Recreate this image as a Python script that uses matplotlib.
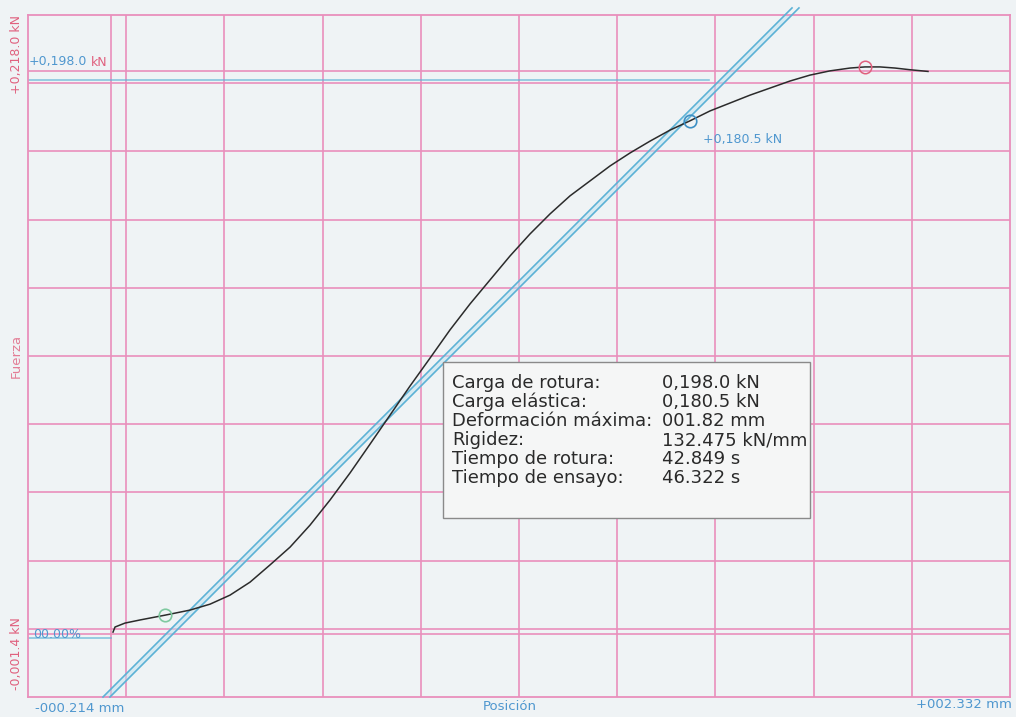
import matplotlib
matplotlib.use("Agg")
import matplotlib.pyplot as plt
import numpy as np

# Load-displacement record (mm, kN)
posicion_mm = [0.0064, 0.0116, 0.0375, 0.0764, 0.1412, 0.2060, 0.2579, 0.3097,
               0.3616, 0.4134, 0.4653, 0.5171, 0.5690, 0.6209, 0.6727, 0.7246,
               0.7764, 0.8283, 0.8801, 0.9320, 0.9838, 1.0357, 1.0875, 1.1394,
               1.1912, 1.2431, 1.2950, 1.3468, 1.3987, 1.4505, 1.5024, 1.5542,
               1.6061, 1.6579, 1.7098, 1.7616, 1.8135, 1.8653, 1.9172, 1.9561,
               1.9950, 2.0339, 2.0728, 2.1194]
fuerza_kN = [-0.0007, 0.0011, 0.0025, 0.0036, 0.0053, 0.0071, 0.0092, 0.0124,
             0.0170, 0.0231, 0.0294, 0.0372, 0.0461, 0.0557, 0.0659, 0.0762,
             0.0865, 0.0964, 0.1064, 0.1156, 0.1241, 0.1326, 0.1404, 0.1475,
             0.1539, 0.1592, 0.1645, 0.1691, 0.1733, 0.1772, 0.1805, 0.1840,
             0.1868, 0.1896, 0.1921, 0.1946, 0.1967, 0.1982, 0.1992, 0.1996,
             0.1996, 0.1992, 0.1986, 0.1980]

# Axis range
x_min, x_max = -0.214, 2.332
y_min, y_max = -0.0237, 0.218
y_ref_low = -0.0014

# Result values
carga_rotura = 0.198
carga_elastica = 0.1805
x_elastica = 1.5024
x_pico, y_pico = 1.9561, 0.1996
x_inicio, y_inicio = 0.1412, 0.0053

# Stiffness lines (slope, zero-load intercepts)
pendiente = 0.1367
intercepto_a = 0.1538
intercepto_b = 0.1718

# Result table
etiquetas = ["Carga de rotura:", "Carga elástica:", "Deformación máxima:",
             "Rigidez:", "Tiempo de rotura:", "Tiempo de ensayo:"]
valores = ["0,198.0 kN", "0,180.5 kN", "001.82 mm",
           "132.475 kN/mm", "42.849 s", "46.322 s"]

W, H = 1016, 717
PAPER = "#eff3f5"
PINK = "#e98fbc"
BLUE = "#5cb2d6"
LBLUE = "#4f97cf"
RED = "#e0607e"

plt.rcParams["font.family"] = ["DejaVu Sans"]

fig = plt.figure(figsize=(W / 100, H / 100), dpi=100, facecolor=PAPER)
ax = fig.add_axes([28 / W, 20 / H, 982 / W, 682 / H], facecolor=PAPER)
ax.set_xlim(x_min, x_max)
ax.set_ylim(y_min, y_max)
ax.set_xticks([])
ax.set_yticks([])
for s in ax.spines.values():
    s.set_color(PINK)
    s.set_linewidth(1.3)

# Paper grid, 10 x 10 divisions
for k in range(1, 10):
    ax.axvline(x_min + k * (x_max - x_min) / 10, color=PINK, lw=1.2, zorder=1)
    ax.axhline(y_min + k * (y_max - y_min) / 10, color=PINK, lw=1.2, zorder=1)

# Reference lines
ax.axvline(0.0, color=PINK, lw=1.2, zorder=1)
ax.axhline(y_ref_low, color=PINK, lw=1.2, zorder=1)
ax.axhline(carga_rotura, color=PINK, lw=1.2, zorder=1)
ax.plot([x_min, 0.0], [y_ref_low - 0.0014] * 2, color=BLUE, lw=1.2, alpha=0.7, zorder=2)
ax.plot([x_min, x_elastica + 0.05], [carga_rotura - 0.003] * 2, color=BLUE, lw=1.2,
        alpha=0.7, zorder=2)

# Stiffness lines
y_top_line = 0.2205
for x0 in (intercepto_a, intercepto_b):
    xs = np.array([x0 + y_min / pendiente, x0 + y_top_line / pendiente])
    ax.plot(xs, pendiente * (xs - x0), color=BLUE, lw=1.2, zorder=3, clip_on=False)
xa = np.array([intercepto_a + y_min / pendiente, intercepto_a + y_top_line / pendiente])
ax.fill_betweenx(pendiente * (xa - intercepto_a), xa, xa + (intercepto_b - intercepto_a),
                 color="#bfe3f0", alpha=0.5, lw=0, zorder=2)

# Load curve
ax.plot(posicion_mm, fuerza_kN, color="#2b2b2b", lw=1.1, zorder=4)

# Markers
ax.plot([x_pico], [y_pico], "o", ms=9, mfc="none", mec=RED, mew=1.1, zorder=5)
ax.plot([x_elastica], [carga_elastica], "o", ms=9, mfc="none", mec="#3d8fc4", mew=1.2, zorder=5)
ax.plot([x_inicio], [y_inicio], "o", ms=9, mfc="none", mec="#7fc9a0", mew=1.2, zorder=5)


def fx(px):
    return px / W


def fy(py):
    return 1 - py / H


# Axis labels
fig.text(fx(17), fy(15), "+0,218.0 kN", rotation=90, color=RED, fontsize=9,
         ha="center", va="top")
fig.text(fx(17), fy(690), "-0,001.4 kN", rotation=90, color=RED, fontsize=9,
         ha="center", va="bottom")
fig.text(fx(16), fy(356), "Fuerza", rotation=90, color=RED, fontsize=9.5,
         ha="center", va="center", alpha=0.8)
fig.text(fx(35), fy(708), "-000.214 mm", color=LBLUE, fontsize=9.5, ha="left", va="center")
fig.text(fx(510), fy(707), "Posición", color=LBLUE, fontsize=9.5, ha="center", va="center")
fig.text(fx(1012), fy(705), "+002.332 mm", color=LBLUE, fontsize=9.5, ha="right", va="center")

# Value annotations
t = fig.text(fx(29), fy(62), "+0,198.0", color=LBLUE, fontsize=9, ha="left", va="center")
fig.canvas.draw()
bb = t.get_window_extent()
fig.text((bb.x1 + 4) / W, fy(62), "kN", color=RED, fontsize=9, ha="left", va="center")
fig.text(fx(703), fy(140), "+0,180.5 kN", color=LBLUE, fontsize=9, ha="left", va="center")
fig.text(fx(33), fy(634), "00.00%", color=LBLUE, fontsize=9, ha="left", va="center")

# Result box
box = plt.Rectangle((fx(443), fy(518)), fx(810) - fx(443), fy(362) - fy(518),
                    transform=fig.transFigure, facecolor="#f5f6f6", edgecolor="#8a8a8a",
                    lw=1.0, zorder=10)
fig.add_artist(box)
for i, (lab, val) in enumerate(zip(etiquetas, valores)):
    yy = fy(383 + i * 19.0)
    fig.text(fx(452), yy, lab, color="#2a2a2a", fontsize=13, ha="left", va="center", zorder=11)
    fig.text(fx(662), yy, val, color="#2a2a2a", fontsize=13, ha="left", va="center", zorder=11)

fig.savefig("out.png", dpi=100, facecolor=PAPER)
